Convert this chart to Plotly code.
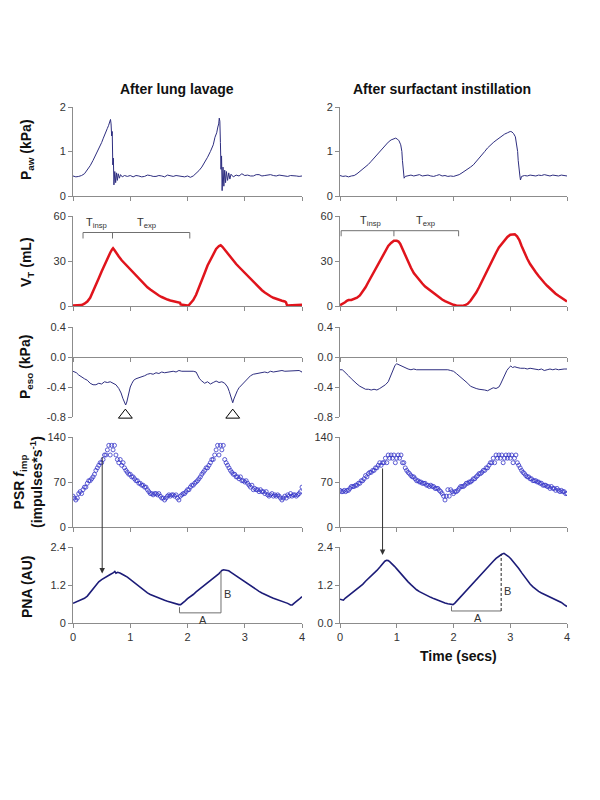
import plotly.graph_objects as go

# ---------------- DATA ----------------
time_ticks = [0, 1, 2, 3, 4]
time_labels = ["0", "1", "2", "3", "4"]

paw_ticks = [0, 1, 2]
paw_labels = ["0", "1", "2"]
vt_ticks = [0, 30, 60]
vt_labels = ["0", "30", "60"]
peso_ticks = [0.4, 0.0, -0.4, -0.8]
peso_labels = ["0.4", "0.0", "-0.4", "-0.8"]
psr_ticks = [0, 70, 140]
psr_labels = ["0", "70", "140"]
pna_ticks = [0, 1.2, 2.4]
pna_labels_lavage = ["0", "1.2", "2.4"]
pna_labels_surf = ["0.0", "1.2", "2.4"]

# Airway pressure (kPa) - after lung lavage
paw_lav_t = [0.00, 0.05, 0.10, 0.15, 0.20, 0.25, 0.30, 0.35, 0.40, 0.45, 0.50, 0.53, 0.56, 0.58, 0.60, 0.62,
             0.64, 0.655, 0.665, 0.675, 0.685, 0.695, 0.705, 0.715, 0.73, 0.745, 0.76, 0.775, 0.79, 0.81,
             0.83, 0.86, 0.90, 0.95, 1.00, 1.05, 1.10, 1.15, 1.20, 1.25, 1.30,
             1.35, 1.40, 1.45, 1.50, 1.55, 1.60, 1.65, 1.70, 1.75, 1.80, 1.85, 1.90, 1.95, 2.00, 2.05, 2.10, 2.15,
             2.20, 2.25, 2.30, 2.35, 2.40, 2.45, 2.48, 2.51, 2.53, 2.545, 2.555, 2.565, 2.575, 2.585, 2.595,
             2.605, 2.62, 2.635, 2.65, 2.665, 2.68, 2.70, 2.72, 2.74,
             2.76, 2.80, 2.85, 2.90, 2.95, 3.00, 3.05, 3.10, 3.15, 3.20, 3.25, 3.30, 3.35, 3.40, 3.45, 3.50, 3.55,
             3.60, 3.65, 3.70, 3.75, 3.80, 3.85, 3.90, 3.95, 4.00]
paw_lav_v = [0.45, 0.43, 0.44, 0.46, 0.50, 0.58, 0.68, 0.80, 0.93, 1.05, 1.20, 1.30, 1.38, 1.45, 1.52, 1.58,
             1.65, 1.72, 1.62, 1.35, 1.45, 0.70, 0.85, 0.25, 0.55, 0.30, 0.52, 0.35, 0.50, 0.40,
             0.48, 0.43, 0.46, 0.44, 0.46, 0.43, 0.46, 0.45, 0.43, 0.44, 0.47, 0.46,
             0.44, 0.44, 0.46, 0.45, 0.43, 0.47, 0.45, 0.44, 0.46, 0.45, 0.44, 0.43, 0.45, 0.42, 0.45, 0.50, 0.57,
             0.65, 0.75, 0.87, 1.00, 1.15, 1.32, 1.42, 1.55, 1.62, 1.75, 1.68, 1.20, 0.60, 0.90, 0.12,
             0.65, 0.22, 0.58, 0.30, 0.55, 0.35, 0.52, 0.38, 0.49,
             0.43, 0.47, 0.45, 0.50, 0.46, 0.47, 0.45, 0.45, 0.48, 0.48, 0.45, 0.46, 0.47, 0.48, 0.46, 0.45, 0.47,
             0.46, 0.45, 0.44, 0.46, 0.46, 0.45, 0.44, 0.45, 0.44]

# Airway pressure (kPa) - after surfactant instillation
paw_sur_t = [0.00, 0.05, 0.10, 0.15, 0.20, 0.25, 0.30, 0.35, 0.40, 0.45, 0.50, 0.55, 0.60, 0.65, 0.70, 0.75,
             0.80, 0.85, 0.90, 0.95, 0.98, 1.01, 1.04, 1.07, 1.09, 1.10, 1.11, 1.12, 1.13, 1.15, 1.20, 1.25, 1.30,
             1.35, 1.40, 1.45, 1.50, 1.55, 1.60, 1.65, 1.70, 1.75, 1.80, 1.85, 1.90, 1.95, 2.00, 2.05, 2.10, 2.15,
             2.20, 2.25, 2.30, 2.35, 2.40, 2.45, 2.50, 2.55, 2.60, 2.65, 2.70, 2.75, 2.80, 2.85, 2.90, 2.95, 3.00,
             3.03, 3.06, 3.09, 3.11, 3.13, 3.14, 3.15, 3.155, 3.16, 3.17, 3.18, 3.19, 3.20, 3.25, 3.30, 3.35,
             3.40, 3.45, 3.50, 3.55, 3.60, 3.65, 3.70, 3.75, 3.80, 3.85, 3.90, 3.95, 4.00]
paw_sur_v = [0.46, 0.44, 0.45, 0.43, 0.45, 0.46, 0.50, 0.55, 0.60, 0.65, 0.71, 0.78, 0.85, 0.92, 1.00, 1.08,
             1.15, 1.21, 1.26, 1.29, 1.30, 1.28, 1.24, 1.15, 1.00, 0.80, 0.60, 0.45, 0.40, 0.44, 0.45, 0.47, 0.45,
             0.46, 0.48, 0.45, 0.46, 0.47, 0.45, 0.44, 0.46, 0.48, 0.45, 0.46, 0.44, 0.45, 0.44, 0.46, 0.48, 0.52,
             0.56, 0.60, 0.65, 0.70, 0.77, 0.85, 0.93, 1.00, 1.08, 1.15, 1.20, 1.25, 1.30, 1.35, 1.39, 1.42, 1.45,
             1.44, 1.40, 1.33, 1.20, 1.00, 0.80, 0.60, 0.52, 0.62, 0.45, 0.36, 0.40, 0.44, 0.46, 0.45, 0.47,
             0.46, 0.45, 0.47, 0.46, 0.48, 0.46, 0.45, 0.47, 0.46, 0.45, 0.47, 0.46, 0.45]

# Tidal volume (mL)
vt_lav_t = [0.00, 0.05, 0.10, 0.15, 0.20, 0.25, 0.30, 0.35, 0.40, 0.45, 0.50, 0.55, 0.60, 0.65, 0.68, 0.70,
            0.72, 0.75, 0.80, 0.85, 0.90, 0.95, 1.00, 1.05, 1.10, 1.15, 1.20, 1.25, 1.30, 1.35, 1.40, 1.45, 1.50,
            1.55, 1.60, 1.65, 1.70, 1.75, 1.80, 1.85, 1.87, 1.88, 1.92, 1.96, 2.00, 2.03, 2.06, 2.10, 2.15, 2.20,
            2.25, 2.30, 2.35, 2.40, 2.45, 2.50, 2.55, 2.58, 2.61, 2.65, 2.70, 2.75, 2.80, 2.85, 2.90, 2.95, 3.00,
            3.05, 3.10, 3.15, 3.20, 3.25, 3.30, 3.35, 3.40, 3.45, 3.50, 3.55, 3.60, 3.65, 3.70, 3.72, 3.74, 3.80,
            3.90, 4.00]
vt_lav_v = [0.3, 0.3, 0.4, 0.6, 1.5, 3.0, 5.5, 9.5, 14.0, 18.5, 23.0, 27.5, 31.5, 35.5, 37.5, 38.5,
            37.5, 35.5, 33.0, 30.5, 28.5, 26.0, 24.0, 22.0, 20.0, 18.0, 16.0, 14.0, 12.5, 11.0, 9.5, 8.0, 7.0,
            6.0, 5.0, 4.3, 3.7, 3.2, 2.8, 2.5, 2.2, 1.0, 0.8, 0.5, 0.3, 0.8, 2.0, 4.0, 7.5, 12.0,
            17.0, 22.0, 27.0, 31.0, 35.0, 38.0, 40.0, 40.5, 39.5, 37.5, 35.0, 32.5, 30.0, 28.0, 26.0, 24.0, 22.0,
            20.0, 18.0, 16.0, 14.0, 12.0, 10.5, 9.0, 7.5, 6.5, 5.5, 4.7, 4.0, 3.5, 3.0, 2.5, 0.3, 0.3,
            0.3, 0.8]

vt_sur_t = [0.00, 0.03, 0.06, 0.09, 0.12, 0.15, 0.20, 0.25, 0.30, 0.35, 0.40, 0.45, 0.50, 0.55, 0.60, 0.65,
            0.70, 0.75, 0.80, 0.85, 0.90, 0.95, 1.00, 1.03, 1.06, 1.10, 1.15, 1.20, 1.25, 1.30, 1.35, 1.40, 1.45,
            1.50, 1.55, 1.60, 1.65, 1.70, 1.75, 1.80, 1.85, 1.90, 1.95, 2.00, 2.05, 2.10, 2.15, 2.20, 2.25, 2.30,
            2.35, 2.40, 2.45, 2.50, 2.55, 2.60, 2.65, 2.70, 2.75, 2.80, 2.85, 2.90, 2.95, 3.00, 3.05, 3.08, 3.12,
            3.16, 3.20, 3.25, 3.30, 3.35, 3.40, 3.45, 3.50, 3.55, 3.60, 3.65, 3.70, 3.75, 3.80, 3.85, 3.90, 3.95,
            4.00]
vt_sur_v = [0.5, 1.0, 2.0, 2.5, 3.5, 4.0, 4.0, 4.5, 5.5, 7.0, 9.5, 12.5, 16.0, 19.5, 23.0, 27.0,
            30.5, 34.0, 37.5, 40.0, 42.0, 43.5, 43.5, 43.0, 41.5, 38.0, 33.0, 29.0, 25.5, 22.0, 19.5, 17.0, 15.0,
            13.0, 11.5, 10.0, 8.5, 7.0, 5.5, 4.3, 3.2, 2.3, 1.5, 0.8, 0.3, 0.1, 0.1, 0.5, 1.5, 3.5,
            6.0, 9.0, 12.5, 16.5, 20.5, 24.5, 28.5, 32.0, 35.5, 39.0, 41.5, 44.0, 46.0, 47.5, 48.0, 47.8, 46.5,
            44.0, 40.0, 35.5, 31.5, 28.0, 25.0, 22.5, 20.0, 17.5, 15.5, 13.5, 11.5, 9.8, 8.2, 6.8, 5.5, 4.2,
            3.0]

# Esophageal pressure (kPa)
peso_lav_t = [0.00, 0.03, 0.06, 0.10, 0.15, 0.20, 0.25, 0.30, 0.35, 0.40, 0.45, 0.50, 0.55, 0.60, 0.65, 0.70,
              0.75, 0.80, 0.84, 0.87, 0.90, 0.92, 0.94, 0.96, 0.98, 1.00, 1.03, 1.06, 1.10, 1.15, 1.20, 1.25,
              1.30, 1.35, 1.40, 1.45, 1.50, 1.55, 1.60, 1.65, 1.70, 1.75, 1.80, 1.85, 1.90, 1.95, 2.00, 2.05,
              2.10, 2.15, 2.18, 2.21, 2.25, 2.30, 2.35, 2.40, 2.45, 2.50, 2.55, 2.60, 2.65, 2.70, 2.73, 2.76,
              2.79, 2.81, 2.84, 2.87, 2.90, 2.95, 3.00, 3.05, 3.10, 3.15, 3.20, 3.25, 3.30, 3.35, 3.40, 3.45,
              3.50, 3.55, 3.60, 3.65, 3.70, 3.75, 3.80, 3.85, 3.90, 3.95, 4.00, 4.02]
peso_lav_v = [-0.19, -0.20, -0.21, -0.24, -0.27, -0.29, -0.31, -0.35, -0.37, -0.37, -0.35, -0.36, -0.33, -0.34,
              -0.33, -0.35, -0.37, -0.42, -0.48, -0.55, -0.62, -0.64, -0.60, -0.52, -0.45, -0.40, -0.35, -0.31,
              -0.29, -0.28, -0.26, -0.25, -0.23, -0.22, -0.23, -0.21, -0.22, -0.20, -0.21, -0.20, -0.20, -0.19,
              -0.20, -0.18, -0.19, -0.19, -0.18, -0.18, -0.19, -0.20, -0.24, -0.29, -0.32, -0.35, -0.33, -0.36,
              -0.34, -0.32, -0.34, -0.33, -0.35, -0.40, -0.46, -0.55, -0.61, -0.56, -0.50, -0.45, -0.41, -0.37,
              -0.33, -0.28, -0.25, -0.23, -0.22, -0.22, -0.21, -0.20, -0.21, -0.19, -0.20, -0.19, -0.19, -0.18,
              -0.19, -0.19, -0.18, -0.19, -0.19, -0.18, -0.20, -0.22]

peso_sur_t = [0.00, 0.04, 0.07, 0.10, 0.15, 0.20, 0.25, 0.30, 0.35, 0.40, 0.45, 0.50, 0.55, 0.60, 0.65, 0.70,
              0.75, 0.80, 0.85, 0.88, 0.91, 0.94, 0.97, 1.00, 1.03, 1.06, 1.10, 1.15, 1.20, 1.25, 1.30, 1.35,
              1.40, 1.45, 1.50, 1.55, 1.60, 1.65, 1.70, 1.75, 1.80, 1.85, 1.90, 1.95, 2.00, 2.05, 2.10, 2.15,
              2.20, 2.25, 2.30, 2.35, 2.40, 2.45, 2.50, 2.55, 2.60, 2.65, 2.70, 2.75, 2.80, 2.83, 2.86, 2.90,
              2.94, 2.98, 3.01, 3.04, 3.08, 3.12, 3.18, 3.25, 3.30, 3.35, 3.40, 3.45, 3.50, 3.55, 3.60, 3.65,
              3.70, 3.75, 3.80, 3.85, 3.90, 3.95, 4.00]
peso_sur_v = [-0.17, -0.17, -0.19, -0.21, -0.25, -0.29, -0.33, -0.36, -0.39, -0.41, -0.43, -0.43, -0.44, -0.43,
              -0.44, -0.42, -0.40, -0.37, -0.33, -0.28, -0.22, -0.16, -0.11, -0.09, -0.10, -0.12, -0.13, -0.14,
              -0.16, -0.17, -0.16, -0.17, -0.17, -0.16, -0.17, -0.16, -0.17, -0.16, -0.17, -0.16, -0.16, -0.17,
              -0.17, -0.18, -0.19, -0.22, -0.25, -0.28, -0.31, -0.35, -0.39, -0.41, -0.42, -0.43, -0.43, -0.44,
              -0.45, -0.43, -0.41, -0.42, -0.40, -0.36, -0.31, -0.24, -0.18, -0.14, -0.12, -0.14, -0.13, -0.14,
              -0.15, -0.15, -0.16, -0.15, -0.16, -0.16, -0.17, -0.16, -0.18, -0.17, -0.16, -0.17, -0.16, -0.17,
              -0.16, -0.16, -0.16]

# PSR impulse frequency (impulses/s), sampled every 0.025 s from 0 to 4 s
psr_step = 0.025
psr_lav_v = [48, 45, 42, 45, 52, 55, 52, 58, 62, 62, 68, 72, 72, 75, 78, 82, 88, 92, 96, 100,
             100, 105, 112, 112, 120, 127, 112, 127, 120, 127, 112, 105, 100, 105, 96, 100, 92, 88, 85, 82,
             82, 78, 78, 75, 72, 72, 68, 68, 65, 65, 62, 62, 58, 55, 52, 52, 50, 52, 52, 50,
             52, 48, 45, 45, 42, 45, 48, 50, 48, 50, 50, 48, 50, 45, 42, 48, 50, 52, 52, 55,
             58, 58, 62, 65, 65, 68, 70, 72, 75, 78, 82, 85, 88, 92, 92, 96, 100, 105, 105, 112,
             120, 127, 112, 127, 120, 127, 105, 100, 96, 92, 88, 85, 82, 82, 78, 78, 75, 78, 72, 72,
             70, 72, 68, 65, 62, 65, 58, 60, 58, 58, 55, 58, 55, 55, 52, 55, 50, 48, 50, 52,
             48, 50, 48, 50, 48, 45, 42, 45, 48, 45, 50, 48, 52, 48, 50, 50, 48, 50, 52, 55, 62]
psr_sur_v = [57, 55, 55, 57, 55, 57, 57, 60, 63, 63, 63, 65, 65, 68, 68, 72, 72, 75, 80, 78,
             83, 85, 85, 88, 88, 92, 92, 96, 100, 96, 100, 100, 107, 100, 112, 107, 112, 107, 112, 100,
             107, 112, 107, 112, 100, 100, 92, 88, 85, 83, 80, 78, 78, 75, 72, 72, 70, 70, 68, 68,
             68, 65, 65, 63, 65, 63, 63, 60, 60, 60, 57, 55, 52, 48, 42, 48, 58, 48, 58, 55,
             52, 55, 55, 57, 60, 63, 63, 63, 65, 68, 68, 70, 70, 72, 75, 75, 78, 80, 83, 83,
             85, 88, 88, 92, 92, 96, 100, 100, 107, 100, 112, 107, 112, 107, 112, 100, 107, 112, 107, 112,
             107, 112, 100, 107, 112, 100, 96, 92, 88, 85, 83, 80, 78, 78, 75, 75, 72, 72, 72, 70,
             70, 68, 68, 65, 65, 65, 63, 63, 60, 63, 60, 60, 57, 60, 57, 55, 57, 55, 55, 52, 52]

# Phrenic nerve activity (AU)
pna_lav_t = [0.00, 0.05, 0.10, 0.15, 0.20, 0.25, 0.30, 0.35, 0.40, 0.45, 0.50, 0.55, 0.60, 0.65, 0.70, 0.73,
             0.75, 0.78, 0.82, 0.86, 0.90, 0.95, 1.00, 1.05, 1.10, 1.15, 1.20, 1.25, 1.30, 1.35, 1.40, 1.45,
             1.50, 1.55, 1.60, 1.65, 1.70, 1.75, 1.80, 1.85, 1.88, 1.92, 1.96, 2.00, 2.05, 2.10, 2.15, 2.20,
             2.25, 2.30, 2.35, 2.40, 2.45, 2.50, 2.55, 2.58, 2.60, 2.63, 2.67, 2.72, 2.76, 2.80, 2.85, 2.90,
             2.95, 3.00, 3.05, 3.10, 3.15, 3.20, 3.25, 3.30, 3.35, 3.40, 3.45, 3.50, 3.55, 3.60, 3.65, 3.70,
             3.75, 3.80, 3.83, 3.86, 3.90, 3.95, 4.00]
pna_lav_v = [0.62, 0.66, 0.70, 0.74, 0.78, 0.85, 0.96, 1.08, 1.18, 1.30, 1.37, 1.43, 1.48, 1.53, 1.58, 1.63,
             1.57, 1.60, 1.58, 1.55, 1.50, 1.45, 1.38, 1.30, 1.22, 1.15, 1.09, 1.02, 0.95, 0.90, 0.86, 0.82,
             0.79, 0.75, 0.72, 0.69, 0.66, 0.63, 0.60, 0.58, 0.58, 0.63, 0.70, 0.77, 0.83, 0.90, 0.98, 1.05,
             1.12, 1.18, 1.25, 1.32, 1.40, 1.48, 1.56, 1.62, 1.66, 1.68, 1.66, 1.65, 1.60, 1.55, 1.48, 1.42,
             1.36, 1.30, 1.24, 1.17, 1.11, 1.06, 1.00, 0.95, 0.90, 0.86, 0.82, 0.78, 0.75, 0.72, 0.68, 0.65,
             0.62, 0.57, 0.57, 0.62, 0.67, 0.75, 0.83]

pna_sur_t = [0.00, 0.03, 0.06, 0.09, 0.12, 0.15, 0.20, 0.25, 0.30, 0.35, 0.40, 0.45, 0.50, 0.55, 0.60, 0.65,
             0.70, 0.75, 0.79, 0.82, 0.85, 0.88, 0.92, 0.96, 1.00, 1.05, 1.10, 1.15, 1.20, 1.25, 1.30, 1.35,
             1.40, 1.45, 1.50, 1.55, 1.60, 1.65, 1.70, 1.75, 1.80, 1.85, 1.90, 1.95, 1.99, 2.02, 2.05, 2.10,
             2.15, 2.20, 2.25, 2.30, 2.35, 2.40, 2.45, 2.50, 2.55, 2.60, 2.65, 2.70, 2.75, 2.80, 2.85, 2.89,
             2.93, 2.97, 3.01, 3.05, 3.10, 3.15, 3.20, 3.25, 3.30, 3.35, 3.40, 3.45, 3.50, 3.55, 3.60, 3.65,
             3.70, 3.75, 3.80, 3.85, 3.90, 3.95, 4.00]
pna_sur_v = [0.75, 0.73, 0.72, 0.78, 0.82, 0.86, 0.93, 1.00, 1.07, 1.14, 1.22, 1.32, 1.40, 1.48, 1.56, 1.66,
             1.76, 1.87, 1.95, 1.98, 1.97, 1.93, 1.87, 1.79, 1.71, 1.60, 1.50, 1.40, 1.30, 1.21, 1.12, 1.05,
             0.99, 0.94, 0.90, 0.86, 0.81, 0.77, 0.73, 0.69, 0.66, 0.63, 0.61, 0.60, 0.58, 0.62, 0.68, 0.77,
             0.86, 0.95, 1.05, 1.15, 1.26, 1.37, 1.47, 1.57, 1.67, 1.76, 1.86, 1.95, 2.04, 2.11, 2.17, 2.20,
             2.16, 2.10, 2.03, 1.95, 1.84, 1.72, 1.59, 1.47, 1.34, 1.23, 1.14, 1.06, 1.00, 0.95, 0.91, 0.87,
             0.83, 0.79, 0.75, 0.71, 0.65, 0.58, 0.52]

# Annotation anchors (time in s, value in panel units)
tri_t = [0.915, 2.79]
tri_v = [-0.775, -0.775]

# ---------------- LAYOUT GEOMETRY ----------------
W, H = 600, 800
col_px = [(73, 302), (340, 567)]
row_px = [(107, 196), (216, 306), (327, 417), (437, 527), (547, 623)]
row_ranges = [[0, 2], [0, 60], [-0.8, 0.4], [0, 140], [0, 2.4]]

FONT = "Arial, Liberation Sans, sans-serif"
AX_COL = "#8c8c8c"
TXT_COL = "#333333"
LINE_BLUE = "#2e2e80"
PNA_BLUE = "#1c1c78"
PSR_BLUE = "#3535c8"
RED = "#e0141c"

fig = go.Figure()
layout = dict(width=W, height=H, margin=dict(l=0, r=0, t=0, b=0, pad=0, autoexpand=False),
              paper_bgcolor="white", plot_bgcolor="white", showlegend=False,
              font=dict(family=FONT, size=11, color=TXT_COL))

def ax_id(r, c):
    return 2 * r + c + 1

row_ticks = [(paw_ticks, paw_labels, paw_labels), (vt_ticks, vt_labels, vt_labels),
             (peso_ticks, peso_labels, peso_labels), (psr_ticks, psr_labels, psr_labels),
             (pna_ticks, pna_labels_lavage, pna_labels_surf)]

for r in range(5):
    for c in range(2):
        k = ax_id(r, c)
        xs = "" if k == 1 else str(k)
        x0, x1 = col_px[c]
        y0, y1 = row_px[r]
        xdom = [x0 / W, x1 / W]
        ydom = [1 - y1 / H, 1 - y0 / H]
        xa = dict(domain=xdom, range=[0, 4], anchor="y" + xs, showgrid=False, zeroline=False,
                  showline=True, linecolor=AX_COL, linewidth=1, ticks="outside", ticklen=4,
                  tickcolor=AX_COL, tickvals=time_ticks, ticktext=time_labels, automargin=False,
                  showticklabels=(r == 4), tickfont=dict(family=FONT, size=11, color=TXT_COL))
        if r == 2:
            # x axis drawn along the zero line of the oesophageal pressure panel
            zero_px = y0 + (y1 - y0) * (0.4 - 0.0) / 1.2
            xa.update(anchor="free", position=1 - zero_px / H)
        tv, tl_l, tl_r = row_ticks[r]
        ya = dict(domain=ydom, range=row_ranges[r], anchor="x" + xs, showgrid=False, zeroline=False,
                  showline=True, linecolor=AX_COL, linewidth=1, ticks="outside", ticklen=4,
                  tickcolor=AX_COL, tickvals=tv, ticktext=(tl_l if c == 0 else tl_r), automargin=False,
                  tickfont=dict(family=FONT, size=11, color=TXT_COL))
        layout["xaxis" + xs] = xa
        layout["yaxis" + xs] = ya

def refs(r, c):
    k = ax_id(r, c)
    s = "" if k == 1 else str(k)
    return "x" + s, "y" + s

# ---------------- TRACES ----------------
def add_line(r, c, t, v, color, width):
    xr, yr = refs(r, c)
    fig.add_trace(go.Scatter(x=t, y=v, mode="lines", line=dict(color=color, width=width),
                             xaxis=xr, yaxis=yr, hoverinfo="skip"))

add_line(0, 0, paw_lav_t, paw_lav_v, LINE_BLUE, 1)
add_line(0, 1, paw_sur_t, paw_sur_v, LINE_BLUE, 1)
add_line(1, 0, vt_lav_t, vt_lav_v, RED, 2.5)
add_line(1, 1, vt_sur_t, vt_sur_v, RED, 2.5)
add_line(2, 0, peso_lav_t, peso_lav_v, LINE_BLUE, 1)
add_line(2, 1, peso_sur_t, peso_sur_v, LINE_BLUE, 1)

for c, vals in enumerate([psr_lav_v, psr_sur_v]):
    xr, yr = refs(3, c)
    tt = [round(i * psr_step, 3) for i in range(len(vals))]
    fig.add_trace(go.Scatter(x=tt, y=vals, mode="markers",
                             marker=dict(symbol="circle-open", size=4, color=PSR_BLUE,
                                         line=dict(width=0.8, color=PSR_BLUE)),
                             xaxis=xr, yaxis=yr, hoverinfo="skip"))

add_line(4, 0, pna_lav_t, pna_lav_v, PNA_BLUE, 1.6)
add_line(4, 1, pna_sur_t, pna_sur_v, PNA_BLUE, 1.6)

# open triangles marking oesophageal pressure dips
xr, yr = refs(2, 0)
fig.add_trace(go.Scatter(x=tri_t, y=tri_v, mode="markers", cliponaxis=False,
                         marker=dict(symbol="triangle-up-open", size=12, color="black",
                                     line=dict(width=1, color="black")),
                         xaxis=xr, yaxis=yr, hoverinfo="skip"))

# ---------------- SHAPES / ANNOTATIONS ----------------
shapes = []
annots = []
BR_COL = "#707070"

def seg(r, c, xa, ya, xb, yb, color=BR_COL, dash="solid", width=1):
    xr, yr = refs(r, c)
    shapes.append(dict(type="line", xref=xr, yref=yr, x0=xa, y0=ya, x1=xb, y1=yb,
                       line=dict(color=color, width=width, dash=dash)))

def txt(r, c, x, y, text, size=11):
    xr, yr = refs(r, c)
    annots.append(dict(xref=xr, yref=yr, x=x, y=y, text=text, showarrow=False,
                       xanchor="center", yanchor="middle",
                       font=dict(family=FONT, size=size, color=TXT_COL)))

# T_insp / T_exp brackets
for c, (b0, bm, b1, by, byt, lx1, lx2, ly) in enumerate([
        (0.175, 0.69, 2.04, 49.0, 45.0, 0.41, 1.28, 55.5),
        (0.02, 0.95, 2.09, 50.2, 46.5, 0.53, 1.51, 57.0)]):
    seg(1, c, b0, by, b1, by)
    for bx in (b0, bm, b1):
        seg(1, c, bx, by, bx, byt)
    txt(1, c, lx1, ly, "T<sub>insp</sub>")
    txt(1, c, lx2, ly, "T<sub>exp</sub>")

# A / B markers on PNA
seg(4, 0, 1.86, 0.32, 2.585, 0.32)
seg(4, 0, 1.86, 0.32, 1.86, 0.50)
seg(4, 0, 2.585, 0.32, 2.585, 1.63)
txt(4, 0, 2.27, 0.08, "A")
txt(4, 0, 2.70, 0.92, "B")
seg(4, 1, 1.965, 0.38, 2.84, 0.38)
seg(4, 1, 1.965, 0.38, 1.965, 0.53)
seg(4, 1, 2.84, 0.38, 2.84, 2.16, color="#222222", dash="3px,2px")
txt(4, 1, 2.43, 0.16, "A")
txt(4, 1, 2.96, 1.02, "B")

# Arrows from PSR to PNA
for c, (ax_t, head_v, tail_px) in enumerate([(0.51, 1.56, -118), (0.75, 2.15, -88)]):
    xr, yr = refs(4, c)
    annots.append(dict(xref=xr, yref=yr, x=ax_t, y=head_v, ax=0, ay=tail_px, text="",
                       showarrow=True, arrowhead=2, arrowsize=1.1, arrowwidth=1,
                       arrowcolor="#333333"))

def paper_text(px, py, text, angle=0):
    annots.append(dict(xref="paper", yref="paper", x=px / W, y=1 - py / H, text=text,
                       textangle=angle, showarrow=False, xanchor="center", yanchor="middle",
                       font=dict(family=FONT, size=14, color="#111111")))

# Column titles and x title
paper_text(177, 89, "<b>After lung lavage</b>")
paper_text(442, 89, "<b>After surfactant instillation</b>")
paper_text(458, 656, "<b>Time (secs)</b>")

# Y axis titles
paper_text(27, 150, "<b>P<sub>aw</sub> (kPa)</b>", -90)
paper_text(27, 262, "<b>V<sub>T</sub> (mL)</b>", -90)
paper_text(26, 367, "<b>P<sub>eso</sub> (kPa)</b>", -90)
paper_text(28, 482, "<b>PSR <i>f</i><sub>imp</sub></b><br><b>(impulses*s<sup>-1</sup>)</b>", -90)
paper_text(27, 587, "<b>PNA (AU)</b>", -90)

layout["shapes"] = shapes
layout["annotations"] = annots
fig.update_layout(**layout)

fig.write_html("out.html", config={"displayModeBar": False},
               post_script="document.body.style.margin='0';document.body.style.padding='0';"
                           "document.documentElement.style.overflow='hidden';")
